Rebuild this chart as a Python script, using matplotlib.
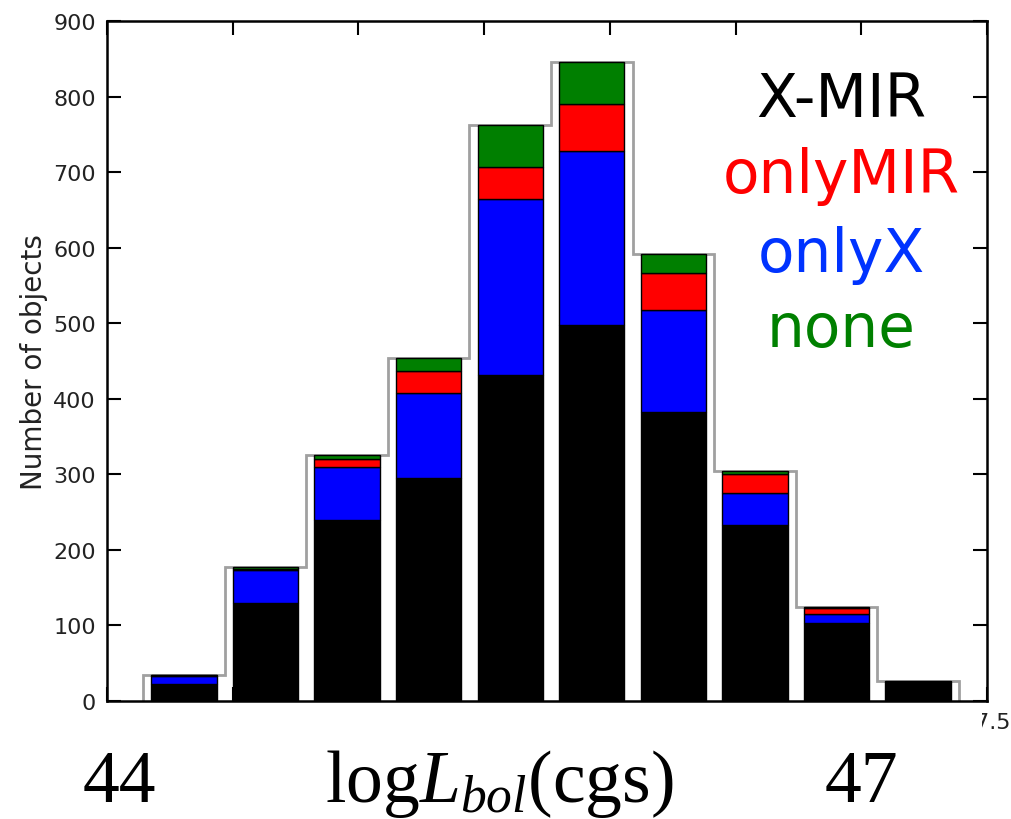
import numpy as np
import matplotlib
matplotlib.use("Agg")
import matplotlib.pyplot as plt
from matplotlib.patches import Rectangle

# ---- data ----
bin_lo, bin_hi, n_bins = 44.144, 47.388, 10
x_mir    = [23, 130, 240, 295, 432, 498, 383, 233, 103, 25]
only_x   = [10,  43,  70, 113, 233, 230, 135,  43,  12,  0]
only_mir = [ 1,   2,  10,  29,  42,  63,  49,  25,   8,  0]
none     = [ 1,   2,   6,  17,  56,  55,  25,   3,   1,  1]
y_ticks = [0, 100, 200, 300, 400, 500, 600, 700, 800, 900]
x_ticks = [44.0, 44.5, 45.0, 45.5, 46.0, 46.5, 47.0, 47.5]
legend_labels = ["X-MIR", "onlyMIR", "onlyX", "none"]
legend_colors = ["black", "#ff0000", "#0033ff", "#008000"]

edges = np.linspace(bin_lo, bin_hi, n_bins + 1)
centers = 0.5 * (edges[:-1] + edges[1:])
bw = edges[1] - edges[0]

fig = plt.figure(figsize=(10.11, 8.2), dpi=100)
ax = fig.add_axes([0.1058, 0.1439, 0.9763 - 0.1058, 0.9726 - 0.1439])

series = [(x_mir, "black"), (only_x, "#0000ff"), (only_mir, "#ff0000"), (none, "#007f00")]
bottom = np.zeros(n_bins)
for vals, col in series:
    v = np.array(vals, dtype=float)
    ax.bar(centers, v, width=0.8 * bw, bottom=bottom, color=col,
           edgecolor="black", linewidth=1.0, zorder=2)
    bottom += v

ax.stairs(bottom, edges, baseline=0, fill=False, color="#a0a0a0", linewidth=2.0, zorder=1)

ax.set_xlim(44.0, 47.5)
ax.set_ylim(0, 900)
ax.set_xticks(x_ticks)
ax.set_xticklabels(["" for t in x_ticks[:-1]] + [f"{x_ticks[-1]:g}"])
ax.set_yticks(y_ticks)
ax.tick_params(axis="both", which="major", direction="in", length=10, width=1.5,
               top=True, right=True, labelsize=16, labelcolor="#222222", pad=8)
for s in ax.spines.values():
    s.set_linewidth(1.8)
ax.set_ylabel("Number of objects", fontsize=20, color="#222222", labelpad=4)

# white cover over the bottom tick labels (as in the reference composite)
fig.patches.append(Rectangle((100 / 1011, 0), (982 - 100) / 1011, (820 - 707) / 820,
                             transform=fig.transFigure, facecolor="white",
                             edgecolor="none", zorder=5))

plt.rcParams["mathtext.fontset"] = "custom"
plt.rcParams["mathtext.rm"] = "Liberation Serif"
plt.rcParams["mathtext.it"] = "Liberation Serif:italic"

big = dict(fontsize=53, family="Liberation Serif", va="baseline", ha="center", zorder=6)
fig.text(119 / 1011, (820 - 802) / 820, "44", **big)
fig.text(861 / 1011, (820 - 802) / 820, "47", **big)
fig.text(499 / 1011, (820 - 802) / 820, r"$\mathrm{log}L_{bol}\mathrm{(cgs)}$", **big)

baselines = [117, 193, 272, 347]
for lab, col, yb in zip(legend_labels, legend_colors, baselines):
    fig.text(841 / 1011, (820 - yb) / 820, lab, color=col, fontsize=43,
             family="DejaVu Sans", ha="center", va="baseline")

fig.savefig("out.png", dpi=100)
